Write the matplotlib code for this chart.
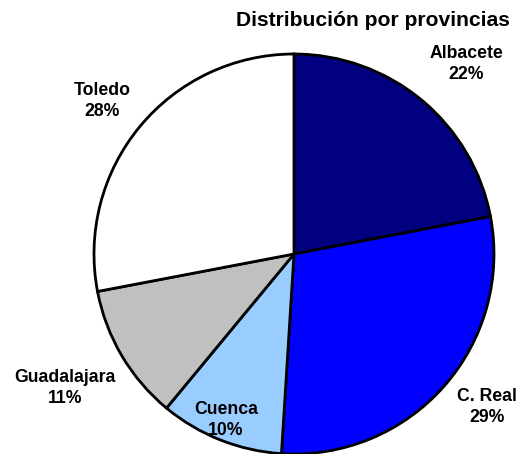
import matplotlib
matplotlib.use("Agg")
import matplotlib.pyplot as plt

provincias = ["Albacete", "C. Real", "Cuenca", "Guadalajara", "Toledo"]
porcentajes = [22, 29, 10, 11, 28]
colores = ["#000080", "#0000FF", "#99CCFF", "#C0C0C0", "#FFFFFF"]

# label block centres, in pixels of the 522x454 image
label_px = [(466, 64), (487, 407), (226, 420), (65, 388), (102, 101)]

W, H = 522, 454
cx, cy, r = 294, 254, 200


def to_data(px, py):
    return (px - cx) / r, (cy - py) / r


plt.rcParams["font.family"] = ["Liberation Sans", "DejaVu Sans"]

fig = plt.figure(figsize=(W / 100, H / 100), dpi=100)
ax = fig.add_axes([0, 0, 1, 1])
ax.pie(porcentajes, colors=colores, startangle=90, counterclock=False,
       radius=1.0, wedgeprops=dict(edgecolor="black", linewidth=2))
ax.set_xlim(-cx / r, (W - cx) / r)
ax.set_ylim(-(H - cy) / r, cy / r)
ax.set_aspect("auto")
ax.axis("off")

for name, pct, (px, py) in zip(provincias, porcentajes, label_px):
    x, y = to_data(px, py)
    ax.text(x, y, f"{name}\n{pct}%", ha="center", va="center",
            fontsize=12.7, fontweight="bold", linespacing=1.3)

tx, ty = to_data(373, 20)
ax.text(tx, ty, "Distribución por provincias", ha="center", va="center",
        fontsize=15.2, fontweight="bold")

fig.savefig("out.png", dpi=100)
